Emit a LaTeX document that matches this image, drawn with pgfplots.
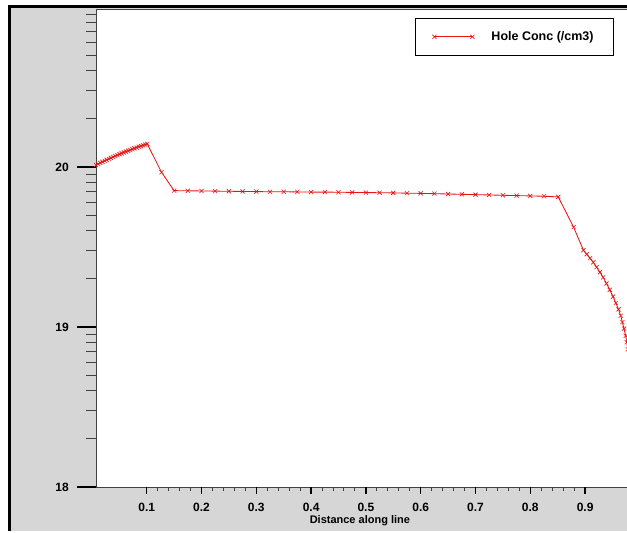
\documentclass[border=0pt]{standalone}
\usepackage{pgfplots}
\pgfplotsset{compat=1.18}
\usepackage{fontspec}
\setmainfont{Liberation Sans}
\definecolor{bggrey}{RGB}{214,214,214}
\definecolor{linered}{RGB}{232,20,20}

\pgfplotstableread{
x y
0.0075 20.0125
0.0114 20.0191
0.0153 20.0256
0.0192 20.0321
0.0231 20.0384
0.0270 20.0446
0.0309 20.0507
0.0348 20.0568
0.0387 20.0627
0.0426 20.0685
0.0465 20.0743
0.0504 20.0799
0.0543 20.0854
0.0582 20.0908
0.0621 20.0962
0.0660 20.1014
0.0699 20.1065
0.0738 20.1116
0.0777 20.1165
0.0816 20.1213
0.0855 20.1261
0.0894 20.1307
0.0933 20.1352
0.0972 20.1397
0.1011 20.1440
0.127 19.967
0.150 19.852
0.175 19.851
0.200 19.850
0.225 19.849
0.250 19.848
0.275 19.847
0.300 19.846
0.325 19.845
0.350 19.845
0.375 19.844
0.400 19.843
0.425 19.843
0.450 19.842
0.475 19.841
0.500 19.840
0.525 19.839
0.550 19.838
0.575 19.836
0.600 19.835
0.625 19.833
0.650 19.831
0.675 19.829
0.700 19.827
0.725 19.825
0.750 19.823
0.775 19.821
0.800 19.819
0.825 19.817
0.851 19.813
0.879 19.624
0.897 19.480
0.903 19.455
0.909 19.430
0.915 19.404
0.921 19.374
0.927 19.342
0.933 19.310
0.939 19.272
0.945 19.232
0.951 19.190
0.956 19.150
0.961 19.110
0.965 19.070
0.968 19.030
0.971 18.990
0.974 18.945
0.976 18.905
0.978 18.860
0.9785 18.840
}\holeconc

\begin{document}
\begin{tikzpicture}[x=1pt,y=1pt]
\useasboundingbox (0,0) rectangle (627,533);
\fill[bggrey] (9.7,1.5) rectangle (640,526.5);
\draw[black,line width=2.5pt] (9.7,1.5) -- (9.7,526.5) -- (640,526.5);
\begin{axis}[
  at={(96pt,46pt)}, anchor=south west,
  scale only axis, width=532pt, height=477.5pt,
  xmin=0.0075, xmax=0.9783, ymin=18, ymax=20.984,
  axis background/.style={fill=white},
  axis line style={draw=black!75, line width=0.9pt},
  tick align=outside,
  xtick=\empty,
  ytick={18,19,20},
  ytick pos=left,
  minor ytick={18.30103,18.47712,18.60206,18.69897,18.77815,18.84510,18.90309,18.95424,
               19.30103,19.47712,19.60206,19.69897,19.77815,19.84510,19.90309,19.95424,
               20.30103,20.47712,20.60206,20.69897,20.77815,20.84510,20.90309,20.95424},
  major tick length=19pt, minor tick length=10pt,
  major y tick style={draw=black, line width=1.4pt},
  minor y tick style={draw=black!75, line width=1.1pt},
  /pgf/number format/assume math mode=true,
  yticklabel style={font=\fontsize{12}{14}\selectfont\bfseries, inner sep=0pt, anchor=east, xshift=-8pt},
  legend style={at={(axis description cs:0.5996,0.982)}, anchor=north west,
    draw=black, line width=0.8pt, fill=white,
    inner xsep=17pt, inner ysep=13pt,
    font=\fontsize{12.5}{14}\selectfont\bfseries,
    nodes={inner sep=0pt},
    /tikz/every odd column/.append style={column sep=17pt},
    cells={anchor=west}},
  legend image code/.code={\draw[#1] plot coordinates {(0pt,0pt) (38pt,0pt)};},
]
\addplot[linered, line width=0.85pt, mark=x, mark size=2.9pt, mark options={line width=0.6pt}] table[x=x,y=y] {\holeconc};
\addlegendentry{Hole Conc (/cm3)\hspace*{3pt}}
\end{axis}
\begin{axis}[
  at={(96pt,46pt)}, anchor=south west,
  scale only axis, width=532pt, height=477.5pt,
  xmin=0.0075, xmax=0.9783, ymin=18, ymax=20.984,
  axis line style={draw=none},
  tick align=outside,
  ytick=\empty,
  xtick={0.1,0.2,0.3,0.4,0.5,0.6,0.7,0.8,0.9},
  minor x tick num=4,
  xtick pos=bottom,
  major tick length=7pt, minor tick length=4pt,
  major x tick style={draw=black, line width=1.3pt},
  minor x tick style={draw=black!75, line width=1.0pt},
  /pgf/number format/assume math mode=true,
  xticklabel style={font=\fontsize{12}{14}\selectfont\bfseries, inner sep=0pt, anchor=north, yshift=-9pt},
  xlabel={Distance along line},
  xlabel style={font=\fontsize{11}{13}\selectfont\bfseries, inner sep=0pt, at={(axis description cs:0.496,0)}, anchor=north, yshift=-28pt},
]
\addplot[draw=none] coordinates {(0.5,19)};
\end{axis}
\end{tikzpicture}
\end{document}
